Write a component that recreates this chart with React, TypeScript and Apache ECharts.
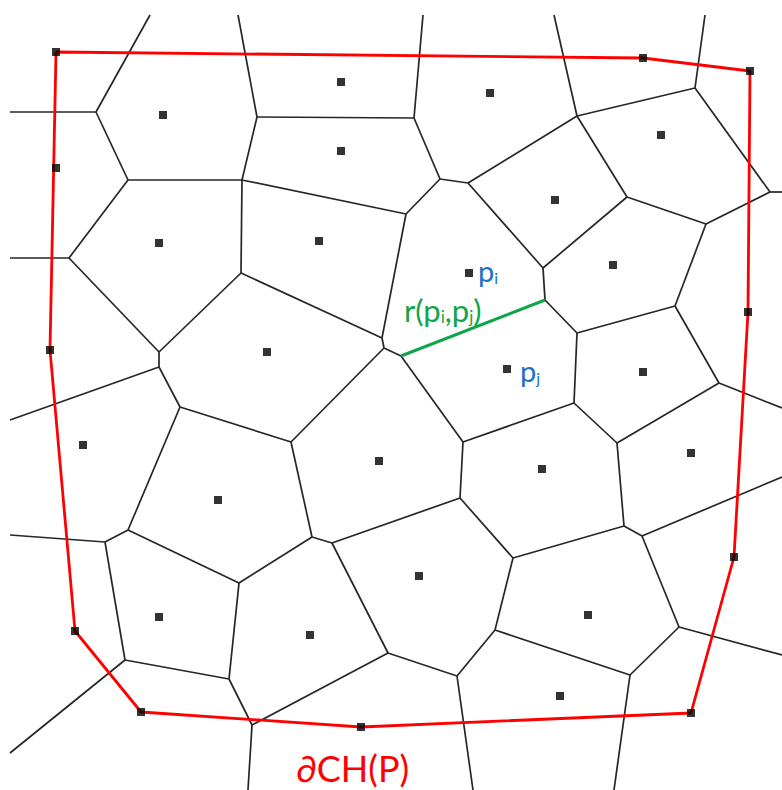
import React, { useEffect, useRef } from "react";
import * as echarts from "echarts";

// Sites of the diagram (pixel-like coordinates, y grows downward)
const sites: [number, number][] = [
  [56, 52], [163, 115], [341, 82], [490, 93], [643, 58], [750, 71],
  [56, 168], [341, 151], [661, 135], [159, 243], [319, 241], [555, 200],
  [469, 273], [613, 265], [50, 350], [267, 352], [507, 369], [643, 372],
  [748, 312], [83, 445], [379, 461], [542, 469], [691, 453], [218, 500],
  [419, 576], [588, 615], [159, 617], [310, 635], [75, 631], [560, 696],
  [734, 557], [141, 712], [361, 727], [691, 713],
];

// Voronoi vertices (last ones are where edges leave the picture)
const vertices: [number, number][] = [
  [96, 112], [128, 180], [242, 180], [69, 258], [414, 118], [440, 179],
  [468, 183], [406, 214], [577, 116], [695, 88], [770, 192], [627, 197],
  [706, 224], [543, 268], [159, 352], [159, 367], [257, 117], [241, 273],
  [180, 407], [291, 442], [382, 338], [384, 348], [401, 356], [545, 300],
  [463, 442], [574, 403], [460, 498], [577, 333], [675, 306], [719, 383],
  [617, 443], [624, 526], [105, 542], [128, 530], [239, 583], [312, 537],
  [332, 543], [388, 653], [457, 676], [495, 630], [513, 558], [229, 679],
  [125, 660], [252, 725], [642, 536], [679, 627], [630, 675],
  [10, 112], [150, 15], [238, 15], [10, 258], [423, 15], [554, 15],
  [705, 15], [782, 192], [10, 420], [782, 408], [782, 477], [782, 655],
  [614, 790], [473, 790], [10, 535], [10, 753], [248, 790],
];

// Voronoi edges as pairs of vertex indices
const edges: [number, number][] = [
  [0, 47], [0, 48], [0, 1], [1, 2], [1, 3], [16, 49], [16, 2], [16, 4],
  [2, 7], [2, 17], [3, 50], [3, 14], [4, 51], [4, 5], [5, 6], [5, 7],
  [6, 8], [6, 13], [7, 20], [8, 52], [8, 9], [8, 11], [9, 53], [9, 10],
  [10, 54], [11, 12], [11, 13], [12, 10], [12, 28], [13, 23], [14, 15],
  [14, 17], [15, 55], [15, 18], [17, 20], [18, 19], [18, 33], [19, 21],
  [19, 35], [20, 21], [21, 22], [22, 24], [23, 27], [24, 25], [24, 26],
  [25, 27], [25, 30], [26, 36], [26, 40], [27, 28], [28, 29], [29, 56],
  [29, 30], [30, 31], [31, 40], [31, 44], [44, 57], [44, 45], [45, 58],
  [45, 46], [46, 39], [46, 59], [39, 40], [39, 38], [38, 60], [38, 37],
  [37, 36], [37, 43], [36, 35], [35, 34], [34, 33], [34, 41], [33, 32],
  [32, 61], [32, 42], [42, 41], [42, 62], [41, 43], [43, 63],
];

// Highlighted edge r(pi, pj)
const bisectorEdge: [number, number] = [22, 23];

// Convex hull boundary, as site indices (closed)
const hullOrder: number[] = [0, 4, 5, 18, 30, 33, 32, 31, 28, 14, 0];

const BLUE = "#1f6fc5";
const GREEN = "#11a54a";
const RED = "#ff0000";
const FONT = "Lato, 'Open Sans', sans-serif";

export default function App() {
  const ref = useRef<HTMLDivElement>(null);

  useEffect(() => {
    if (!ref.current) return;
    const chart = echarts.init(ref.current, undefined, { renderer: "svg" });

    const subRich = (color: string, size: number, subSize: number) => ({
      a: { fontSize: size, lineHeight: size, fill: color, fontFamily: FONT },
      s: {
        fontSize: subSize,
        lineHeight: subSize,
        verticalAlign: "bottom",
        fill: color,
        fontFamily: FONT,
      },
    });

    chart.setOption({
      animation: false,
      backgroundColor: "#ffffff",
      grid: { left: 0, top: 0, right: 0, bottom: 0 },
      xAxis: {
        type: "value",
        min: 0,
        max: 782,
        show: false,
      },
      yAxis: {
        type: "value",
        min: 0,
        max: 790,
        inverse: true,
        show: false,
      },
      series: [
        {
          type: "lines",
          coordinateSystem: "cartesian2d",
          silent: true,
          z: 1,
          lineStyle: { color: "#262626", width: 1.7, opacity: 1 },
          data: edges.map(([a, b]) => ({ coords: [vertices[a], vertices[b]] })),
        },
        {
          type: "lines",
          coordinateSystem: "cartesian2d",
          silent: true,
          z: 2,
          lineStyle: { color: GREEN, width: 3, opacity: 1 },
          data: [
            { coords: [vertices[bisectorEdge[0]], vertices[bisectorEdge[1]]] },
          ],
        },
        {
          type: "line",
          silent: true,
          z: 3,
          symbol: "none",
          lineStyle: { color: RED, width: 2.8 },
          data: hullOrder.map((i) => sites[i]),
        },
        {
          type: "scatter",
          silent: true,
          z: 4,
          symbol: "rect",
          symbolSize: 8,
          itemStyle: { color: "#000000" },
          data: sites,
        },
      ],
      graphic: [
        {
          type: "text",
          x: 478,
          y: 256,
          z: 10,
          style: {
            text: "{a|p}{s|i}",
            align: "left",
            verticalAlign: "top",
            rich: subRich(BLUE, 29, 16),
          },
        },
        {
          type: "text",
          x: 520,
          y: 356,
          z: 10,
          style: {
            text: "{a|p}{s|j}",
            align: "left",
            verticalAlign: "top",
            rich: subRich(BLUE, 29, 16),
          },
        },
        {
          type: "text",
          x: 404,
          y: 294,
          z: 10,
          style: {
            text: "{a|r(p}{s|i}{a|,p}{s|j}{a|)}",
            align: "left",
            verticalAlign: "top",
            rich: subRich(GREEN, 31, 17),
          },
        },
        {
          type: "text",
          x: 296,
          y: 768,
          z: 10,
          style: {
            text: "∂CH(P)",
            fill: RED,
            fontSize: 36,
            fontFamily: FONT,
            align: "left",
            verticalAlign: "middle",
          },
        },
      ],
    });

    return () => chart.dispose();
  }, []);

  return (
    <div
      ref={ref}
      style={{ position: "absolute", left: 0, top: 0, width: 782, height: 790 }}
    />
  );
}
